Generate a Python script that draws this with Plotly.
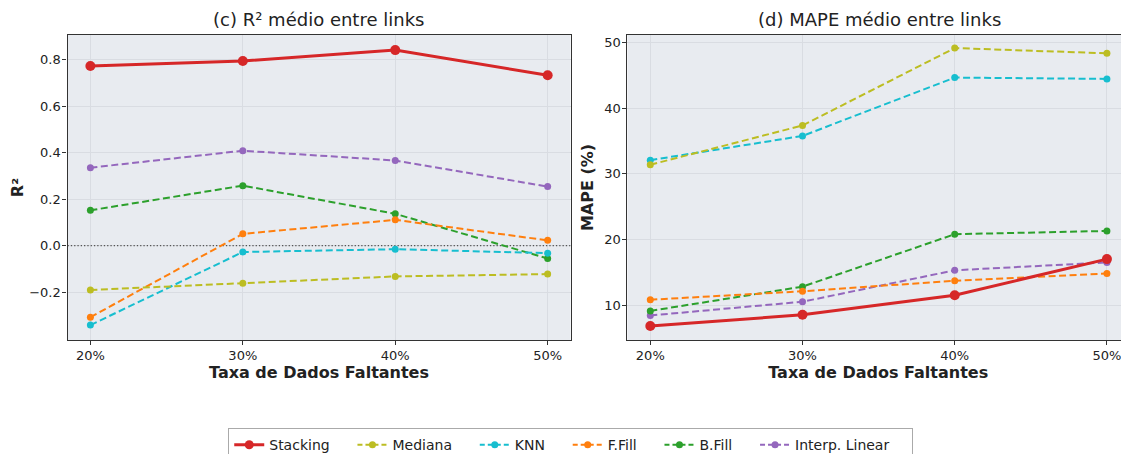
import plotly.graph_objects as go

categories = ["20%", "30%", "40%", "50%"]
series_names = ["Stacking", "Mediana", "KNN", "F.Fill", "B.Fill", "Interp. Linear"]
colors = ["#d62728", "#bcbd22", "#17becf", "#ff7f0e", "#2ca02c", "#9467bd"]

r2_stacking = [0.772, 0.793, 0.840, 0.732]
r2_mediana = [-0.190, -0.161, -0.132, -0.122]
r2_knn = [-0.341, -0.027, -0.015, -0.032]
r2_ffill = [-0.307, 0.051, 0.111, 0.023]
r2_bfill = [0.152, 0.258, 0.137, -0.055]
r2_interp = [0.335, 0.408, 0.366, 0.254]

mape_stacking = [6.8, 8.5, 11.5, 17.0]
mape_mediana = [31.4, 37.4, 49.2, 48.4]
mape_knn = [32.1, 35.8, 44.7, 44.5]
mape_ffill = [10.8, 12.1, 13.7, 14.8]
mape_bfill = [9.1, 12.8, 20.8, 21.3]
mape_interp = [8.4, 10.5, 15.3, 16.5]

r2_all = [r2_stacking, r2_mediana, r2_knn, r2_ffill, r2_bfill, r2_interp]
mape_all = [mape_stacking, mape_mediana, mape_knn, mape_ffill, mape_bfill, mape_interp]

xidx = list(range(len(categories)))
fig = go.Figure()

# zero reference line (left)
fig.add_trace(go.Scatter(x=[-0.15, 3.15], y=[0, 0], mode="lines",
                         line=dict(color="#555555", width=1.3, dash="1.3px,2px"),
                         showlegend=False, hoverinfo="skip", xaxis="x", yaxis="y"))

DASH = "7px,3.5px"
order = [5, 4, 3, 2, 1, 0]
for i in order:
    name = series_names[i]
    main = i == 0
    line = dict(color=colors[i], width=3 if main else 2, dash="solid" if main else DASH)
    marker = dict(color=colors[i], size=10 if main else 7)
    fig.add_trace(go.Scatter(x=xidx, y=r2_all[i], mode="lines+markers", name=name,
                             line=line, marker=marker,
                             showlegend=False, xaxis="x", yaxis="y"))
    fig.add_trace(go.Scatter(x=xidx, y=mape_all[i], mode="lines+markers", name=name,
                             line=line, marker=marker,
                             showlegend=False, xaxis="x2", yaxis="y2"))

# legend entries in original order
pad = "\u00a0" * 4
for i in range(len(series_names)):
    main = i == 0
    fig.add_trace(go.Scatter(x=[None], y=[None], mode="lines+markers",
                             name=series_names[i] + pad,
                             line=dict(color=colors[i], width=3 if main else 2,
                                       dash="solid" if main else "5px,3px"),
                             marker=dict(color=colors[i], size=9 if main else 7),
                             showlegend=True, xaxis="x", yaxis="y"))

axis_common = dict(showline=True, linecolor="#333333", linewidth=1.3, mirror=True,
                   ticks="outside", ticklen=4, tickcolor="#333333", ticklabelstandoff=-1,
                   gridcolor="#d9dce2", gridwidth=1, zeroline=False, automargin=False,
                   tickfont=dict(family="DejaVu Sans", size=13, color="#222222"))

W, H = 1121, 446
fig.update_layout(
    width=W, height=H,
    margin=dict(l=0, r=0, t=0, b=0, autoexpand=False),
    paper_bgcolor="white",
    plot_bgcolor="#e8ebf0",
    font=dict(family="DejaVu Sans", color="#222222"),
    xaxis=dict(domain=[0.0531, 0.5018], range=[-0.15, 3.15], tickmode="array",
               tickvals=xidx, ticktext=categories,
               title=dict(text="<b>Taxa de Dados Faltantes</b>", font=dict(size=16), standoff=0),
               anchor="y", **axis_common),
    yaxis=dict(domain=[0.2556, 0.9395], range=[-0.405, 0.905],
               tickvals=[-0.2, 0.0, 0.2, 0.4, 0.6, 0.8],
               ticktext=["\u22120.2", "0.0", "0.2", "0.4", "0.6", "0.8"],
               title=dict(text="<b>R²</b>", font=dict(size=16), standoff=1),
               anchor="x", **axis_common),
    xaxis2=dict(domain=[0.5526, 1.0], range=[-0.15, 3.145], tickmode="array",
                tickvals=xidx, ticktext=categories,
                title=dict(text="<b>Taxa de Dados Faltantes</b>", font=dict(size=16), standoff=0),
                anchor="y2", **axis_common),
    yaxis2=dict(domain=[0.2556, 0.9395], range=[4.66, 51.2],
                tickvals=[10, 20, 30, 40, 50],
                title=dict(text="<b>MAPE (%)</b>", font=dict(size=16), standoff=6),
                anchor="x2", **axis_common),
    legend=dict(orientation="h", x=0.502, xanchor="center", y=0.058, yanchor="top",
                bordercolor="#aaaaaa", borderwidth=1, bgcolor="white",
                font=dict(size=14, family="DejaVu Sans"), itemwidth=30),
    annotations=[
        dict(text="(c) R² médio entre links", x=0.2774, xref="paper", y=0.9753, yref="paper",
             xanchor="center", yanchor="middle", showarrow=False,
             font=dict(size=18, family="DejaVu Sans", color="#222222")),
        dict(text="(d) MAPE médio entre links", x=0.777, xref="paper", y=0.9753, yref="paper",
             xanchor="center", yanchor="middle", showarrow=False,
             font=dict(size=18, family="DejaVu Sans", color="#222222")),
    ],
)

fig.write_html("out.html")
